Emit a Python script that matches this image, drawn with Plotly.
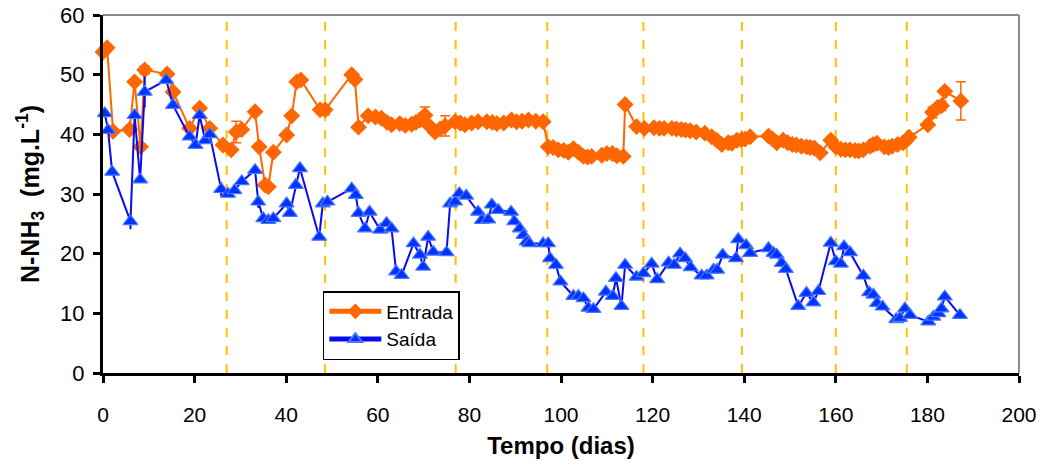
import plotly.graph_objects as go

# ---- data ----
entrada_dias = [0.0, 0.9, 2.2, 5.8, 6.9, 8.2, 9.1, 14.0, 15.3, 18.9, 21.1, 23.3, 26.2, 28.0, 29.1, 30.3,
                33.2, 34.1, 35.4, 36.1, 37.2, 40.1, 41.2, 42.3, 43.2, 47.4, 48.5, 54.3, 55.0, 55.8, 57.9,
                59.5, 60.8, 62.0, 63.0, 64.8, 66.0, 67.4, 68.3, 69.2, 70.3, 71.4, 72.5, 73.6, 74.7, 76.9,
                78.0, 79.0, 80.5, 81.9, 83.8, 85.0, 86.0, 87.5, 89.2, 90.3, 91.5, 92.9, 94.5, 96.1, 97.2,
                98.3, 99.4, 100.6, 101.6, 102.7, 103.8, 104.9, 105.8, 106.7, 108.9, 110.0, 111.2, 112.2,
                113.6, 114.0, 116.5, 118.2, 120.3, 121.5, 122.5, 124.2, 125.2, 126.3, 127.2, 128.2, 129.5,
                131.4, 132.9, 134.0, 135.1, 136.5, 137.3, 138.4, 139.4, 140.2, 141.3, 145.3, 146.2, 147.1,
                148.5, 149.5, 150.5, 151.4, 152.5, 153.6, 154.4, 155.3, 156.6, 158.9, 160.0, 161.1, 162.1,
                163.1, 164.2, 165.0, 166.0, 167.5, 168.2, 169.0, 170.6, 171.5, 172.3, 173.5, 174.7, 175.4,
                176.0, 180.1, 181.1, 182.2, 183.1, 183.8, 187.3]
entrada_valores = [53.8, 54.5, 40.5, 40.8, 48.8, 37.9, 50.8, 50.1, 47.1, 41.0, 44.4, 41.0, 38.2, 37.4, 40.4, 40.8,
                   43.8, 37.9, 31.5, 31.2, 37.0, 39.9, 43.1, 48.8, 49.1, 44.1, 44.1, 50.0, 49.2, 41.2, 43.1,
                   42.9, 42.7, 42.0, 41.6, 41.8, 41.5, 41.7, 42.0, 42.4, 43.2, 41.3, 40.4, 40.9, 41.4, 42.1,
                   41.9, 41.6, 41.9, 42.1, 42.1, 42.0, 41.8, 41.9, 42.4, 42.1, 42.2, 42.4, 42.2, 42.1, 37.9,
                   37.8, 37.4, 37.3, 37.0, 37.6, 37.0, 36.3, 36.2, 36.3, 36.5, 36.8, 36.8, 36.4,
                   36.3, 45.0, 41.3, 41.0, 41.1, 41.0, 41.0, 41.0, 40.9, 40.8, 40.7, 40.6, 40.4,
                   40.2, 39.6, 39.0, 38.3, 38.6, 38.5, 39.0, 39.1, 39.2, 39.6, 39.7, 39.2, 38.6,
                   39.0, 38.6, 38.3, 38.2, 38.0, 37.9, 37.8, 37.7, 36.9, 39.0, 37.9, 37.5, 37.4,
                   37.4, 37.3, 37.2, 37.4, 38.0, 38.3, 38.5, 37.9, 37.8, 38.0, 38.3, 38.6, 39.0,
                   39.5, 41.6, 43.7, 44.5, 44.8, 47.2, 45.6]
entrada_erro = {9.1: 0.7, 29.1: 1.8, 48.5: 0.8, 70.3: 1.4, 74.7: 1.7, 181.1: 0.9, 183.1: 0.8, 187.3: 3.2}

saida_dias = [0.4, 1.1, 2.0, 6.0, 6.9, 8.1, 9.1, 13.8, 15.3, 18.9, 20.2, 21.1, 22.3, 23.3, 25.8, 27.3,
              28.7, 30.3, 33.2, 33.9, 35.0, 36.1, 37.2, 40.1, 40.8, 42.1, 43.0, 47.2, 48.0, 49.0, 54.3,
              55.2, 55.8, 57.2, 58.2, 60.5, 61.9, 63.0, 64.0, 65.2, 67.8, 69.2, 69.9, 71.0, 72.1, 75.0,
              75.8, 76.9, 77.8, 79.3, 81.9, 82.7, 84.1, 84.9, 86.3, 89.1, 89.8, 91.0, 91.8, 92.5, 93.1,
              96.1, 97.2, 97.6, 98.9, 99.9, 102.7, 103.8, 104.9, 106.0, 107.1, 109.8, 111.3, 112.0, 113.2,
              114.0, 116.5, 118.0, 119.8, 121.0, 123.5, 124.7, 126.0, 127.1, 128.3, 130.7, 131.8, 133.3,
              134.1, 135.3, 138.2, 138.7, 140.4, 141.3, 145.3, 146.4, 147.1, 148.2, 149.1, 151.8, 153.6,
              155.1, 156.2, 158.9, 160.0, 161.1, 161.8, 163.1, 166.0, 167.3, 168.2, 169.0, 170.2, 173.2,
              174.0, 175.1, 176.2, 180.2, 181.3, 182.4, 183.1, 183.8, 187.1]
saida_valores = [43.5, 40.7, 33.7, 25.4, 43.2, 32.4, 47.1, 49.1, 44.9, 39.6, 38.2, 43.2, 39.0, 40.0, 30.8, 30.0,
                 30.6, 32.1, 34.0, 28.7, 25.9, 25.6, 25.9, 28.4, 26.8, 31.5, 34.3, 22.8, 28.4, 28.7, 30.9,
                 29.8, 26.8, 24.2, 27.0, 24.0, 25.1, 24.2, 17.0, 16.4, 21.7, 19.8, 17.8, 22.8, 20.3, 20.2,
                 28.4, 28.7, 30.1, 29.7, 27.0, 25.6, 25.7, 28.2, 27.3, 27.0, 25.4, 24.2, 23.1, 22.0, 21.7,
                 21.7, 21.7, 19.2, 18.1, 15.3, 12.9, 12.9, 12.5, 10.9, 10.7, 13.6, 12.9, 15.9, 11.2,
                 18.1, 16.1, 16.7, 18.3, 15.7, 18.5, 18.1, 20.0, 19.2, 17.7, 16.3, 16.3, 17.3,
                 17.3, 19.8, 19.2, 22.4, 21.4, 20.1, 20.9, 20.1, 19.8, 18.4, 17.4, 11.2, 13.4,
                 11.8, 13.7, 21.8, 18.7, 18.3, 21.2, 20.2, 16.3, 13.5, 13.1, 11.7, 11.1, 9.0,
                 9.2, 10.8, 9.7, 8.6, 9.4, 10.0, 10.8, 12.8, 9.7]
saida_erro = {6.0: 1.3, 9.1: 2.6, 25.8: 1.2, 33.9: 1.0, 97.2: 0.8}

phase_days = [27, 48.5, 77, 97, 118, 139.5, 160, 175.5]

x_ticks = [0, 20, 40, 60, 80, 100, 120, 140, 160, 180, 200]
y_ticks = [0, 10, 20, 30, 40, 50, 60]

FONT = "Arial, Liberation Sans, sans-serif"
ORANGE = "#FF6600"
BLUE = "#0A0AF0"

e_err = [entrada_erro.get(d, 0) for d in entrada_dias]
s_err = [saida_erro.get(d, 0) for d in saida_dias]

fig = go.Figure()
fig.add_trace(go.Scatter(
    x=entrada_dias, y=entrada_valores, mode="lines+markers", name="Entrada",
    line=dict(color=ORANGE, width=2),
    marker=dict(symbol="diamond", size=13, color=ORANGE, line=dict(color=ORANGE, width=0)),
    error_y=dict(type="data", array=e_err, visible=True, color=ORANGE, thickness=1.5, width=5),
    cliponaxis=False,
))
fig.add_trace(go.Scatter(
    x=saida_dias, y=saida_valores, mode="lines+markers", name="Saída",
    line=dict(color=BLUE, width=2),
    marker=dict(symbol="triangle-up", size=13, color="#0033FF", line=dict(color="#4A78FF", width=1.2)),
    error_y=dict(type="data", array=s_err, visible=True, color=BLUE, thickness=2, width=0),
    cliponaxis=False,
))

shapes = []
for d in phase_days:
    shapes.append(dict(type="line", xref="x", yref="paper", x0=d, x1=d, y0=0, y1=1,
                       line=dict(color="#FFC000", width=2, dash="dash"), layer="below"))
shapes.append(dict(type="line", xref="paper", yref="paper", x0=0, x1=1, y0=1, y1=1,
                   line=dict(color="#8C8C8C", width=2)))
shapes.append(dict(type="line", xref="paper", yref="paper", x0=1, x1=1, y0=0, y1=1,
                   line=dict(color="#8C8C8C", width=2)))

fig.update_layout(
    width=1044, height=470,
    margin=dict(l=103, r=25, t=15, b=97, autoexpand=False),
    paper_bgcolor="white", plot_bgcolor="white",
    font=dict(family=FONT, color="black", size=21),
    shapes=shapes,
    showlegend=True,
    legend=dict(x=0.240, y=0.229, xanchor="left", yanchor="top",
                bgcolor="white", bordercolor="black", borderwidth=1.5,
                font=dict(family=FONT, size=19, color="black"),
                tracegroupgap=0, itemsizing="constant", itemwidth=52),
    xaxis=dict(range=[0, 200], tickmode="array", tickvals=x_ticks, ticktext=[str(v) for v in x_ticks],
               showgrid=False, zeroline=False, showline=True, linecolor="black", linewidth=3,
               ticks="outside", ticklen=7, tickwidth=3, tickcolor="black",
               ticklabelstandoff=14, automargin=False, ticklabeloverflow="allow",
               tickfont=dict(family=FONT, size=21),
               title=dict(text="<b>Tempo (dias)</b>", font=dict(family=FONT, size=24), standoff=12)),
    yaxis=dict(range=[0, 60], tickmode="array", tickvals=y_ticks, ticktext=[str(v) for v in y_ticks],
               showgrid=False, zeroline=False, showline=True, linecolor="black", linewidth=3,
               ticks="outside", ticklen=7, tickwidth=3, tickcolor="black",
               ticklabelstandoff=4, automargin=False, ticklabeloverflow="allow",
               tickfont=dict(family=FONT, size=22),
               title=dict(text="<b>N-NH<sub>3</sub>  (mg.L<sup>-1</sup>)</b>", font=dict(family=FONT, size=25),
                          standoff=14)),
)

fig.write_html("out.html", config={"displayModeBar": False},
               post_script="document.body.style.margin='0';")
